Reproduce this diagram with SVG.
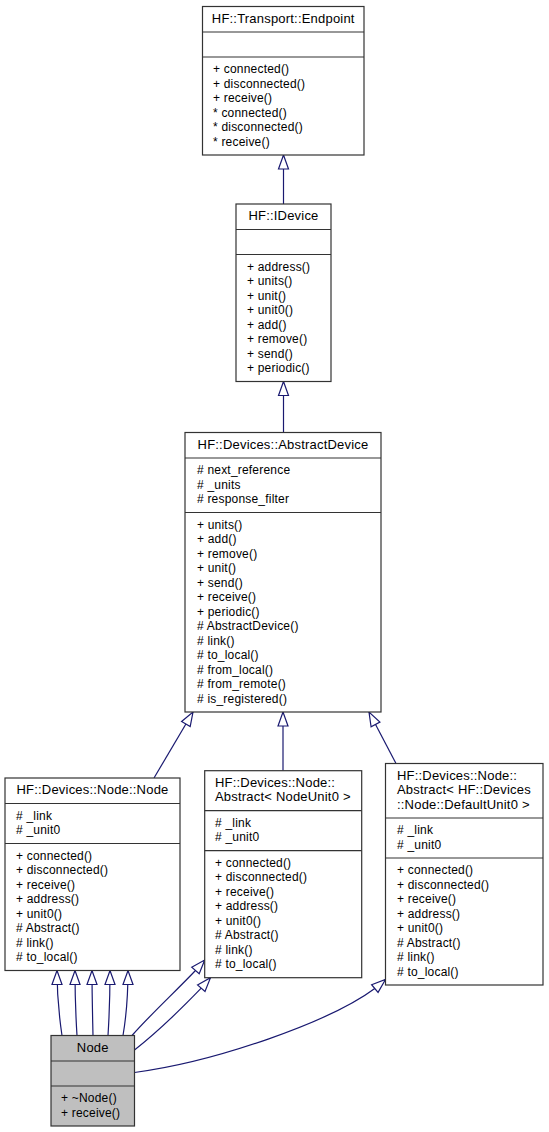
<svg xmlns="http://www.w3.org/2000/svg" width="549" height="1132" viewBox="0 0 549 1132">
<defs>
<style>
.box{fill:#ffffff;stroke:#333333;stroke-width:1.2}
.gray{fill:#bfbfbf;stroke:#333333;stroke-width:1.2}
.div{stroke:#333333;stroke-width:1.2}
.t{font-family:"Liberation Sans",Arial,Helvetica,sans-serif;font-size:13px;letter-spacing:0.2px;fill:#000}
.tc{text-anchor:middle}
.m{font-family:"Liberation Sans",Arial,Helvetica,sans-serif;font-size:12px;letter-spacing:0.2px;fill:#000}
.e{fill:none;stroke:#191970;stroke-width:1.2;marker-end:url(#tri)}
</style>
<marker id="tri" markerUnits="userSpaceOnUse" markerWidth="16" markerHeight="12" refX="14" refY="5" orient="auto" overflow="visible">
<path d="M0,0 L14,5 L0,10 Z" fill="#ffffff" stroke="#191970" stroke-width="1.2"/>
</marker>
</defs>
<rect width="549" height="1132" fill="#ffffff"/>

<g id="connectors">
<path class="e" d="M283.5,204 L283.5,155"/>
<path class="e" d="M283.5,432.5 L283.5,381.5"/>
<path class="e" d="M154,778 L193,712"/>
<path class="e" d="M283,770.7 L283,712"/>
<path class="e" d="M396,763.5 L369,712"/>
<path class="e" d="M62,1035.5 C58.5,1012 57,995 57,970.5"/>
<path class="e" d="M77,1035.5 C75.5,1012 75,995 75,970.5"/>
<path class="e" d="M93,1035.5 C92.5,1012 92,995 92,970.5"/>
<path class="e" d="M108,1035.5 C109.5,1012 110,995 110,970.5"/>
<path class="e" d="M123,1035.5 C127,1012 128,995 128,970.5"/>
<path class="e" d="M132,1035.5 C150,1015 175,992 195,971 L204.7,960"/>
<path class="e" d="M134.5,1050 C160,1030 185,1005 201.7,987.7 L210.5,977.7"/>
<path class="e" d="M134.5,1072.5 C215,1062 330,1022 375.5,988 L385.5,979.5"/>
</g>

<g id="endpoint">
<rect class="box" x="202.5" y="6.5" width="161.5" height="148.5"/>
<line class="div" x1="202.5" y1="32" x2="364" y2="32"/>
<line class="div" x1="202.5" y1="57" x2="364" y2="57"/>
<text class="t tc" x="283.25" y="22.5">HF::Transport::Endpoint</text>
<text class="m" x="213" y="73">+ connected()</text>
<text class="m" x="213" y="87.5">+ disconnected()</text>
<text class="m" x="213" y="102">+ receive()</text>
<text class="m" x="213" y="116.5">* connected()</text>
<text class="m" x="213" y="131">* disconnected()</text>
<text class="m" x="213" y="145.5">* receive()</text>
</g>

<g id="idevice">
<rect class="box" x="236" y="204" width="95" height="177.5"/>
<line class="div" x1="236" y1="229.5" x2="331" y2="229.5"/>
<line class="div" x1="236" y1="254.5" x2="331" y2="254.5"/>
<text class="t tc" x="283.5" y="220">HF::IDevice</text>
<text class="m" x="247" y="270.5">+ address()</text>
<text class="m" x="247" y="285">+ units()</text>
<text class="m" x="247" y="299.5">+ unit()</text>
<text class="m" x="247" y="314">+ unit0()</text>
<text class="m" x="247" y="328.5">+ add()</text>
<text class="m" x="247" y="343">+ remove()</text>
<text class="m" x="247" y="357.5">+ send()</text>
<text class="m" x="247" y="372">+ periodic()</text>
</g>

<g id="abstractdevice">
<rect class="box" x="185" y="432.5" width="196" height="279.5"/>
<line class="div" x1="185" y1="458" x2="381" y2="458"/>
<line class="div" x1="185" y1="512.5" x2="381" y2="512.5"/>
<text class="t tc" x="283" y="448.5">HF::Devices::AbstractDevice</text>
<text class="m" x="197" y="474"># next_reference</text>
<text class="m" x="197" y="488.5"># _units</text>
<text class="m" x="197" y="503"># response_filter</text>
<text class="m" x="197" y="528.5">+ units()</text>
<text class="m" x="197" y="543">+ add()</text>
<text class="m" x="197" y="557.5">+ remove()</text>
<text class="m" x="197" y="572">+ unit()</text>
<text class="m" x="197" y="586.5">+ send()</text>
<text class="m" x="197" y="601">+ receive()</text>
<text class="m" x="197" y="615.5">+ periodic()</text>
<text class="m" x="197" y="630"># AbstractDevice()</text>
<text class="m" x="197" y="644.5"># link()</text>
<text class="m" x="197" y="659"># to_local()</text>
<text class="m" x="197" y="673.5"># from_local()</text>
<text class="m" x="197" y="688"># from_remote()</text>
<text class="m" x="197" y="702.5"># is_registered()</text>
</g>

<g id="node_node">
<rect class="box" x="5" y="778" width="175" height="192.5"/>
<line class="div" x1="5" y1="803.5" x2="180" y2="803.5"/>
<line class="div" x1="5" y1="843.5" x2="180" y2="843.5"/>
<text class="t tc" x="92.5" y="794">HF::Devices::Node::Node</text>
<text class="m" x="16" y="819.5"># _link</text>
<text class="m" x="16" y="834"># _unit0</text>
<text class="m" x="16" y="859.5">+ connected()</text>
<text class="m" x="16" y="874">+ disconnected()</text>
<text class="m" x="16" y="888.5">+ receive()</text>
<text class="m" x="16" y="903">+ address()</text>
<text class="m" x="16" y="917.5">+ unit0()</text>
<text class="m" x="16" y="932"># Abstract()</text>
<text class="m" x="16" y="946.5"># link()</text>
<text class="m" x="16" y="961"># to_local()</text>
</g>

<g id="abstract_nodeunit0">
<rect class="box" x="204.7" y="770.7" width="157" height="207"/>
<line class="div" x1="204.7" y1="810.7" x2="361.7" y2="810.7"/>
<line class="div" x1="204.7" y1="850.7" x2="361.7" y2="850.7"/>
<text class="t" x="215" y="786.7">HF::Devices::Node::</text>
<text class="t" x="215" y="801.2">Abstract&lt; NodeUnit0 &gt;</text>
<text class="m" x="215" y="826.7"># _link</text>
<text class="m" x="215" y="841.2"># _unit0</text>
<text class="m" x="215" y="866.7">+ connected()</text>
<text class="m" x="215" y="881.2">+ disconnected()</text>
<text class="m" x="215" y="895.7">+ receive()</text>
<text class="m" x="215" y="910.2">+ address()</text>
<text class="m" x="215" y="924.7">+ unit0()</text>
<text class="m" x="215" y="939.2"># Abstract()</text>
<text class="m" x="215" y="953.7"># link()</text>
<text class="m" x="215" y="968.2"># to_local()</text>
</g>

<g id="abstract_defaultunit0">
<rect class="box" x="385.5" y="763.5" width="157.5" height="221.5"/>
<line class="div" x1="385.5" y1="818" x2="543" y2="818"/>
<line class="div" x1="385.5" y1="858" x2="543" y2="858"/>
<text class="t" x="397" y="779.5">HF::Devices::Node::</text>
<text class="t" x="397" y="794">Abstract&lt; HF::Devices</text>
<text class="t" x="397" y="808.5">::Node::DefaultUnit0 &gt;</text>
<text class="m" x="397" y="834"># _link</text>
<text class="m" x="397" y="848.5"># _unit0</text>
<text class="m" x="397" y="874">+ connected()</text>
<text class="m" x="397" y="888.5">+ disconnected()</text>
<text class="m" x="397" y="903">+ receive()</text>
<text class="m" x="397" y="917.5">+ address()</text>
<text class="m" x="397" y="932">+ unit0()</text>
<text class="m" x="397" y="946.5"># Abstract()</text>
<text class="m" x="397" y="961"># link()</text>
<text class="m" x="397" y="975.5"># to_local()</text>
</g>

<g id="node">
<rect class="gray" x="51" y="1035.5" width="83.5" height="90.5"/>
<line class="div" x1="51" y1="1061" x2="134.5" y2="1061"/>
<line class="div" x1="51" y1="1086" x2="134.5" y2="1086"/>
<text class="t tc" x="92.75" y="1051.5">Node</text>
<text class="m" x="61" y="1102">+ ~Node()</text>
<text class="m" x="61" y="1116.5">+ receive()</text>
</g>
</svg>
